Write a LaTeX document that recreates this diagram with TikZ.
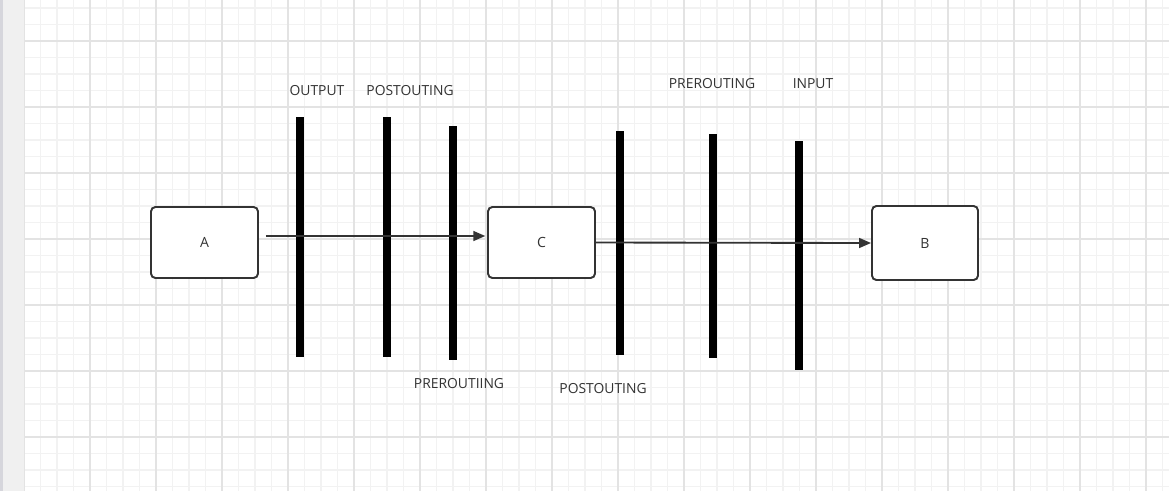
\documentclass[tikz,border=0pt]{standalone}
\usepackage{fontspec}
\newfontfamily\diagfont{Open Sans}
\usetikzlibrary{arrows.meta,positioning}
\definecolor{gridminor}{HTML}{F2F2F2}
\definecolor{gridmajor}{HTML}{E3E3E3}
\definecolor{strip}{HTML}{F0F0F0}
\definecolor{stripedge}{HTML}{D6D6DC}
\definecolor{ink}{HTML}{333333}

\begin{document}
\begin{tikzpicture}[
    x=0.02cm, y=-0.02cm,
    box/.style={draw=ink, line width=1.1pt, rounded corners=2.5pt, fill=white, minimum width=2.14cm, minimum height=1.42cm, font=\diagfont\fontsize{8}{10}\selectfont, text=ink},
    hook/.style={fill=black, inner sep=0pt, minimum width=0.16cm},
    lbl/.style={font=\diagfont\fontsize{7.9}{9}\selectfont, text=ink, inner sep=0pt},
    flow/.style={-{Triangle[length=6.8pt, width=5.6pt]}, draw=ink, line width=1.05pt},
  ]
  \useasboundingbox (0,0) rectangle (1169,491);
  % Grid paper
  \fill[white] (0,0) rectangle (1169,491);
  \foreach \gx in {24,40.5,...,1169} \draw[gridminor, line width=0.6pt] (\gx,0) -- (\gx,491);
  \foreach \gy in {8,24.5,...,491} \draw[gridminor, line width=0.6pt] (24,\gy) -- (1169,\gy);
  \foreach \gx in {24,90,...,1169} \draw[gridmajor, line width=0.6pt] (\gx,0) -- (\gx,491);
  \foreach \gy in {41,107,...,491} \draw[gridmajor, line width=0.6pt] (24,\gy) -- (1169,\gy);
  \fill[strip] (0,0) rectangle (24,491);
  \fill[stripedge] (0,0) rectangle (3,491);

  % Hooks
  \node[hook, minimum height=4.8cm] (output) at (300,237) {};
  \node[hook, minimum height=4.8cm] (postA) at (387,237) {};
  \node[hook, minimum height=4.68cm] (preA) at (453,243) {};
  \node[hook, minimum height=4.48cm] (postB) at (620,243) {};
  \node[hook, minimum height=4.48cm] (preB) at (713,246) {};
  \node[hook, minimum height=4.58cm] (input) at (799,255.5) {};

  % Hosts
  \node[box] (A) at (204.5,242.5) {A};
  \node[box] (C) at (541.5,242.5) {C};
  \node[box, minimum width=2.12cm, minimum height=1.48cm] (B) at (925,243) {B};

  % Labels
  \node[lbl] (lbloutput) at (317,91) {OUTPUT};
  \node[lbl] (lblpostA) at (410,91) {POSTOUTING};
  \node[lbl] (lblpreA) at (459,384) {PREROUTIING};
  \node[lbl] (lblpostB) at (603,389) {POSTOUTING};
  \node[lbl] (lblpreB) at (712,84) {PREROUTING};
  \node[lbl] (lblinput) at (813,84) {INPUT};

  % Flows
  \draw[flow, shorten <=4pt, shorten >=1pt] ([yshift=0.13cm]A.east) -- ([yshift=0.13cm]C.west);
  \draw[flow] (C.east) -- (B.west);
\end{tikzpicture}
\end{document}
